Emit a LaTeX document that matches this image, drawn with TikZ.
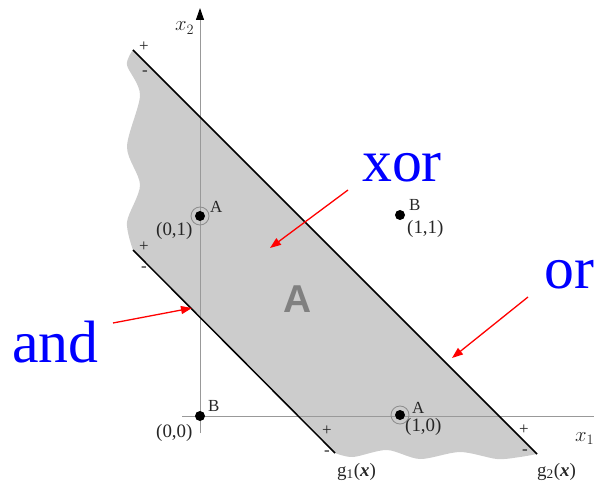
\documentclass[tikz,border=0pt]{standalone}
\usepackage{fontspec}
\setmainfont{Liberation Serif}
\newfontfamily\sansfam{Liberation Sans}
\usetikzlibrary{arrows.meta}
\begin{document}
\begin{tikzpicture}[x=1bp,y=-1bp,
  bound/.style={black, line width=1.5bp},
  axisline/.style={draw=black!40, line width=1bp},
  redarrow/.style={red, line width=1.3bp, -{Triangle[length=11bp,width=8bp]}},
  bluelabel/.style={text=blue, font=\fontsize{60}{60}\selectfont, inner sep=0, anchor=base west},
  lab/.style={font=\fontsize{19}{19}\selectfont, inner sep=0, anchor=base west, text=black!85},
  letter/.style={font=\fontsize{17}{17}\selectfont, inner sep=0, anchor=base west, text=black!85},
  dotpt/.style={circle, fill=black, inner sep=0, minimum size=10bp},
  ring/.style={circle, draw=black!45, line width=0.8bp, inner sep=0, minimum size=18bp},
  sign/.style={font=\fontsize{17}{17}\selectfont, inner sep=0, text=black!85}
]
\useasboundingbox (0,0) rectangle (594,484);
% shaded region
\fill[black!20] (133,50) -- (537,454)
  -- plot[smooth] coordinates {(537,454) (520,457) (497,459) (460,452) (420,459) (387,450) (353,457) (335,453)}
  -- (133,250)
  -- plot[smooth] coordinates {(133,250) (127,222) (140,185) (127,147) (140,95) (127,65) (133,50)}
  -- cycle;
% axes
\coordinate (yb) at (200,433);
\coordinate (yt) at (200,8);
\coordinate (xl) at (182,416);
\coordinate (xr) at (594,416);
\draw[axisline, -{Triangle[length=12bp,width=8bp,color=black]}] (yb) -- (yt);
\draw[axisline] (xl) -- (xr);
\node[inner sep=0, anchor=base west, font=\fontsize{20}{20}\selectfont, text=black!85] (x2lab) at (175,31) {$x_2$};
\node[inner sep=0, anchor=base west, font=\fontsize{20}{20}\selectfont, text=black!85] (x1lab) at (575,441) {$x_1$};
% decision lines
\coordinate (g1a) at (133,250);
\coordinate (g1b) at (335,453);
\coordinate (g2a) at (133,50);
\coordinate (g2b) at (537,454);
\draw[bound] (g1a) -- (g1b);
\draw[bound] (g2a) -- (g2b);
% signs
\node[sign] (s1) at (144,47) {+};
\node[sign] (s2) at (145,73) {-};
\node[sign] (s3) at (144,247) {+};
\node[sign] (s4) at (144,269) {-};
\node[sign] (s5) at (327,431) {+};
\node[sign] (s6) at (327,453) {-};
\node[sign] (s7) at (524,430) {+};
\node[sign] (s8) at (525,452) {-};
% g labels
\node[lab] (g1lab) at (337,476) {g\textsubscript{1}(\textbf{\textit{x}})};
\node[lab] (g2lab) at (537,476) {g\textsubscript{2}(\textbf{\textit{x}})};
% points
\node[ring] (r01) at (200,216) {};
\node[dotpt] (p01) at (200,216) {};
\node[dotpt] (p11) at (400,215) {};
\node[dotpt] (p00) at (200,416) {};
\node[ring] (r10) at (400,415) {};
\node[dotpt] (p10) at (400,415) {};
\node[letter] (a01) at (210,213) {A};
\node[letter] (b11) at (409,211) {B};
\node[letter] (b00) at (208,411) {B};
\node[letter] (a10) at (412,413) {A};
\node[lab] (c01) at (156,236) {(0,1)};
\node[lab] (c11) at (407,234) {(1,1)};
\node[lab] (c00) at (156,437) {(0,0)};
\node[lab] (c10) at (405,431) {(1,0)};
% big A
\node[inner sep=0, font=\sansfam\bfseries\fontsize{39}{39}\selectfont, text=black!50] (bigA) at (298,299) {A};
% blue labels
\node[bluelabel] (xor) at (362,182) {xor};
\node[bluelabel] (or) at (544,288) {or};
\node[bluelabel] (and) at (12,362) {and};
% red arrows
\coordinate (xs) at (348,190);
\coordinate (xt) at (270,248);
\coordinate (os) at (528,297);
\coordinate (ot) at (452,358);
\coordinate (as) at (113,323);
\coordinate (at2) at (192,308);
\draw[redarrow] (xs) -- (xt);
\draw[redarrow] (os) -- (ot);
\draw[redarrow] (as) -- (at2);
\end{tikzpicture}
\end{document}
